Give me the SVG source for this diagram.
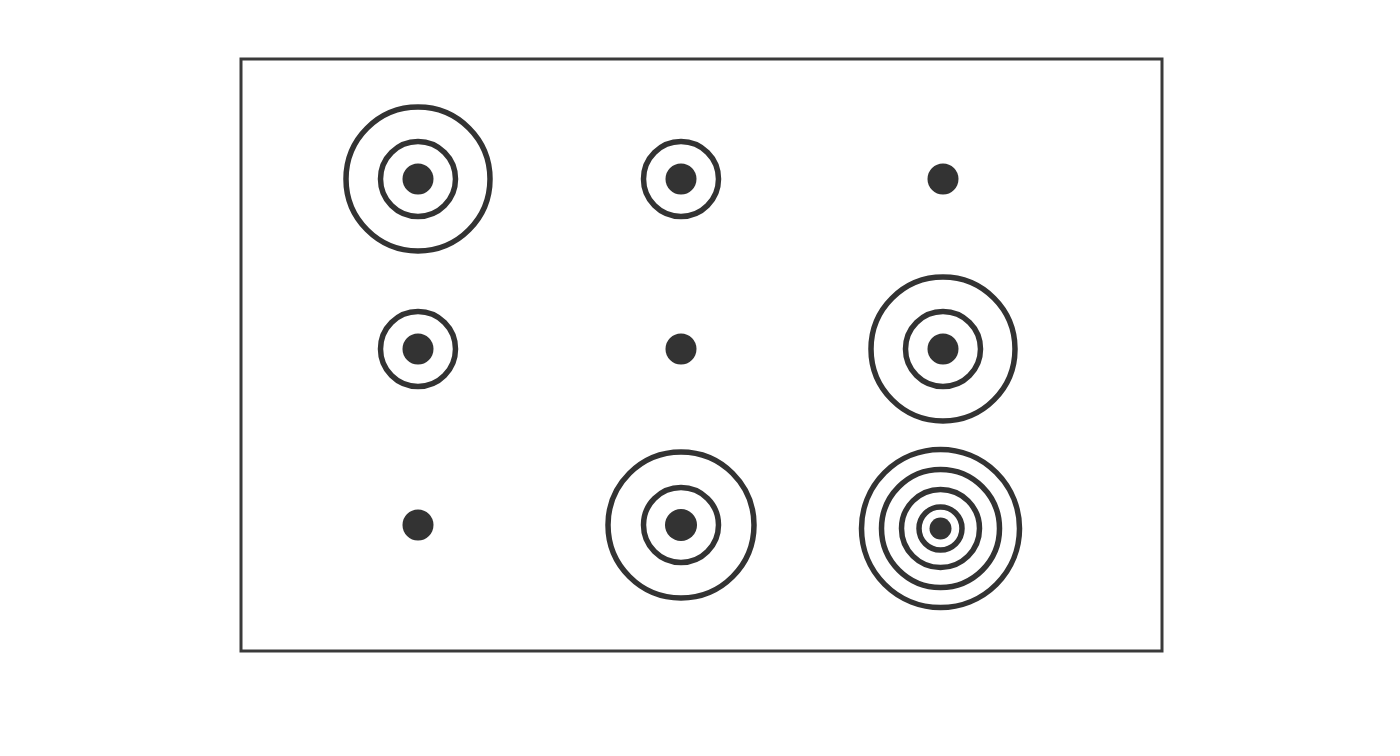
<svg xmlns="http://www.w3.org/2000/svg" width="1400" height="756" viewBox="0 0 1400 756">
<style>
.ring{fill:none;stroke:#333;stroke-width:5.5}
.dot{fill:#333}
.frame{fill:none;stroke:#3a3a3a;stroke-width:3}
</style>
<rect width="1400" height="756" fill="#fff"/>
<rect class="frame" x="241" y="59" width="921" height="592"/>
<g id="t11"><circle class="ring" cx="418" cy="179" r="72"/><circle class="ring" cx="418" cy="179" r="37.5"/><circle class="dot" cx="418" cy="179" r="15.5"/></g>
<g id="t12"><circle class="ring" cx="681" cy="179" r="37.5"/><circle class="dot" cx="681" cy="179" r="15.5"/></g>
<g id="t13"><circle class="dot" cx="943" cy="179" r="15.5"/></g>
<g id="t21"><circle class="ring" cx="418" cy="349" r="37.5"/><circle class="dot" cx="418" cy="349" r="15.5"/></g>
<g id="t22"><circle class="dot" cx="681" cy="349" r="15.5"/></g>
<g id="t23"><circle class="ring" cx="943" cy="349" r="72"/><circle class="ring" cx="943" cy="349" r="37.5"/><circle class="dot" cx="943" cy="349" r="15.5"/></g>
<g id="t31"><circle class="dot" cx="418" cy="525" r="15.5"/></g>
<g id="t32"><circle class="ring" cx="681" cy="525" r="73"/><circle class="ring" cx="681" cy="525" r="37.5"/><circle class="dot" cx="681" cy="525" r="16"/></g>
<g id="t33"><circle class="ring" cx="940.5" cy="528.5" r="79"/><circle class="ring" cx="940.5" cy="528.5" r="59"/><circle class="ring" cx="940.5" cy="528.5" r="39"/><circle class="ring" cx="940.5" cy="528.5" r="21.5"/><circle class="dot" cx="940.5" cy="528.5" r="11"/></g>
<g id="connectors"/>
</svg>
